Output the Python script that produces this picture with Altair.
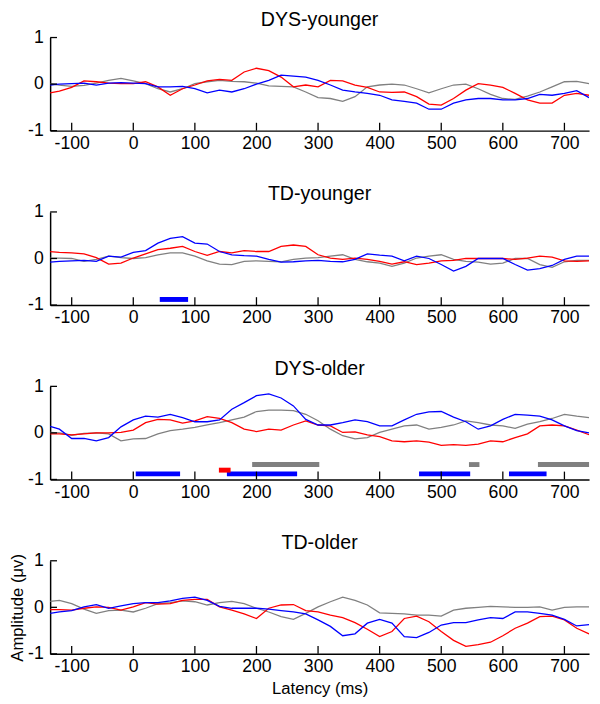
import altair as alt
import pandas as pd

# ---------------- data ----------------
latency = [-135, -120, -100, -80, -60, -40, -20, 0, 20, 40, 60, 80, 100, 120, 140, 160,
           180, 200, 220, 240, 260, 280, 300, 320, 340, 360, 380, 400, 420, 440, 460,
           480, 500, 520, 540, 560, 580, 600, 620, 640, 660, 680, 700, 720, 740]

panels = ["DYS-younger", "TD-younger", "DYS-older", "TD-older"]

dys_younger_red = [-0.19, -0.15, -0.07, 0.07, 0.05, 0.02, 0.01, 0.01, 0.05, -0.06, -0.24, -0.10,
                   -0.02, 0.07, 0.10, 0.08, 0.26, 0.34, 0.29, 0.15, -0.06, -0.02, -0.06, 0.08,
                   0.07, -0.02, -0.07, -0.17, -0.18, -0.17, -0.27, -0.43, -0.45, -0.31, -0.13,
                   0.01, -0.02, -0.07, -0.20, -0.34, -0.41, -0.41, -0.24, -0.20, -0.24]
dys_younger_blue = [-0.02, 0.00, 0.01, 0.02, -0.02, 0.02, 0.03, 0.02, 0.01, -0.06, -0.06, -0.05,
                    -0.10, -0.19, -0.13, -0.17, -0.10, 0.00, 0.08, 0.19, 0.17, 0.15, 0.08, -0.02,
                    -0.13, -0.17, -0.20, -0.24, -0.34, -0.37, -0.41, -0.54, -0.54, -0.41, -0.34,
                    -0.31, -0.31, -0.34, -0.34, -0.31, -0.22, -0.24, -0.20, -0.14, -0.29]
dys_younger_gray = [0.01, -0.02, -0.05, -0.03, 0.02, 0.08, 0.12, 0.07, 0.01, -0.10, -0.17, -0.10,
                    0.01, 0.05, 0.08, 0.06, 0.05, 0.02, -0.04, -0.05, -0.06, -0.17, -0.29, -0.31,
                    -0.37, -0.27, -0.06, -0.02, 0.00, -0.02, -0.10, -0.19, -0.10, -0.02, 0.00,
                    -0.10, -0.22, -0.31, -0.33, -0.26, -0.17, -0.06, 0.05, 0.06, 0.01]

td_younger_red = [0.15, 0.13, 0.12, 0.10, 0.02, -0.12, -0.10, 0.01, 0.10, 0.19, 0.22, 0.26, 0.15,
                  0.07, 0.15, 0.12, 0.17, 0.15, 0.15, 0.26, 0.29, 0.26, 0.08, 0.01, -0.02, 0.01,
                  -0.02, -0.06, -0.12, -0.07, -0.13, -0.10, -0.05, -0.04, 0.00, 0.00, 0.00, 0.00,
                  -0.02, 0.01, 0.05, 0.03, -0.05, -0.06, -0.05]
td_younger_blue = [-0.08, -0.06, -0.05, -0.04, -0.06, 0.05, 0.03, 0.13, 0.17, 0.33, 0.43, 0.47,
                   0.33, 0.31, 0.15, 0.08, 0.06, 0.05, -0.02, -0.08, -0.07, -0.05, -0.04, -0.06,
                   -0.07, -0.02, 0.10, 0.07, 0.05, -0.05, 0.05, 0.00, -0.13, -0.27, -0.17, 0.00,
                   0.00, 0.00, -0.13, -0.25, -0.22, -0.15, -0.02, 0.05, 0.05]
td_younger_gray = [0.01, 0.01, 0.00, -0.06, -0.02, 0.05, 0.02, 0.00, 0.02, 0.08, 0.12, 0.12, 0.05,
                   -0.05, -0.12, -0.13, -0.06, -0.05, -0.06, -0.07, -0.02, 0.01, 0.02, 0.05, 0.08,
                   -0.02, -0.07, -0.10, -0.17, -0.10, 0.01, 0.05, 0.08, -0.02, -0.06, -0.08, -0.12,
                   -0.10, 0.00, 0.00, -0.13, -0.19, -0.07, -0.04, -0.04]

dys_older_red = [-0.02, -0.02, -0.04, -0.02, 0.00, 0.00, 0.01, 0.06, 0.22, 0.29, 0.28, 0.21, 0.26,
                 0.35, 0.31, 0.22, 0.08, 0.03, 0.08, 0.06, 0.17, 0.26, 0.17, 0.15, 0.01, 0.02,
                 -0.04, -0.08, -0.17, -0.19, -0.17, -0.20, -0.27, -0.25, -0.27, -0.24, -0.17,
                 -0.19, -0.10, -0.02, 0.15, 0.17, 0.15, 0.06, -0.04]
dys_older_blue = [0.14, 0.08, -0.12, -0.12, -0.17, -0.10, 0.13, 0.28, 0.36, 0.34, 0.40, 0.33, 0.24,
                  0.24, 0.28, 0.51, 0.65, 0.80, 0.84, 0.75, 0.58, 0.29, 0.17, 0.17, 0.22, 0.28,
                  0.24, 0.15, 0.15, 0.28, 0.40, 0.45, 0.46, 0.34, 0.24, 0.08, 0.15, 0.29, 0.40,
                  0.38, 0.36, 0.28, 0.15, 0.05, 0.00]
dys_older_gray = [0.01, 0.00, -0.05, -0.01, 0.00, -0.02, -0.17, -0.13, -0.12, -0.02, 0.05, 0.08,
                  0.12, 0.17, 0.22, 0.28, 0.34, 0.46, 0.49, 0.49, 0.48, 0.40, 0.26, 0.08, -0.06,
                  -0.13, -0.10, 0.01, 0.08, 0.15, 0.17, 0.08, 0.12, 0.17, 0.26, 0.22, 0.17, 0.15,
                  0.10, 0.19, 0.24, 0.31, 0.40, 0.36, 0.33]

td_older_red = [-0.05, -0.05, -0.06, -0.02, 0.01, 0.00, -0.06, 0.01, 0.10, 0.07, 0.08, 0.15, 0.17,
                0.17, 0.01, -0.06, -0.14, -0.24, -0.02, 0.05, 0.06, -0.07, -0.10, -0.17, -0.22,
                -0.33, -0.47, -0.63, -0.52, -0.24, -0.19, -0.31, -0.52, -0.71, -0.84, -0.80,
                -0.75, -0.61, -0.45, -0.34, -0.20, -0.19, -0.27, -0.45, -0.57]
td_older_blue = [-0.13, -0.10, -0.07, 0.01, 0.06, -0.02, 0.03, 0.08, 0.10, 0.10, 0.14, 0.19, 0.22,
                 0.15, 0.02, -0.02, -0.02, -0.02, -0.04, -0.07, -0.10, -0.14, -0.27, -0.41, -0.61,
                 -0.57, -0.34, -0.26, -0.34, -0.63, -0.65, -0.54, -0.38, -0.33, -0.33, -0.27,
                 -0.22, -0.24, -0.10, -0.10, -0.13, -0.17, -0.26, -0.40, -0.37]
td_older_gray = [0.13, 0.15, 0.08, -0.04, -0.13, -0.07, -0.06, -0.10, -0.02, 0.08, 0.10, 0.14,
                 0.12, 0.05, 0.10, 0.13, 0.08, -0.02, -0.10, -0.20, -0.26, -0.13, 0.01, 0.12, 0.22,
                 0.15, 0.05, -0.12, -0.13, -0.14, -0.17, -0.17, -0.19, -0.06, -0.02, 0.00, 0.02,
                 0.01, 0.00, 0.00, 0.01, -0.06, 0.00, 0.01, 0.01]

# significance bars
sig_panel = ["TD-younger", "DYS-older", "DYS-older", "DYS-older", "DYS-older",
             "DYS-older", "DYS-older", "DYS-older", "DYS-older"]
sig_series = ["blue", "blue", "blue", "blue", "blue", "red", "gray", "gray", "gray"]
sig_start = [43, 4, 152, 464, 610, 139, 193, 545, 657]
sig_end = [89, 76, 266, 547, 671, 158, 302, 562, 740]
sig_level = {"blue": -0.88, "red": -0.80, "gray": -0.68}

x_ticks = [-100, 0, 100, 200, 300, 400, 500, 600, 700]
y_ticks = [-1, 0, 1]

series_names = ["gray", "red", "blue"]
series_colors = ["#808080", "#ff0000", "#0000ff"]

values = {
    "DYS-younger": {"red": dys_younger_red, "blue": dys_younger_blue, "gray": dys_younger_gray},
    "TD-younger": {"red": td_younger_red, "blue": td_younger_blue, "gray": td_younger_gray},
    "DYS-older": {"red": dys_older_red, "blue": dys_older_blue, "gray": dys_older_gray},
    "TD-older": {"red": td_older_red, "blue": td_older_blue, "gray": td_older_gray},
}

# ---------------- chart ----------------
W, H = 550, 95
FONT = "Liberation Sans"

xscale = alt.Scale(domain=[-135, 740], nice=False, zero=False)
yscale = alt.Scale(domain=[-1, 1], nice=False, zero=False)
cscale = alt.Scale(domain=series_names, range=series_colors)


def panel(name, last=False):
    rows = []
    for s in series_names:
        for t, v in zip(latency, values[name][s]):
            rows.append({"t": t, "v": v, "s": s})
    df = pd.DataFrame(rows)

    xaxis = alt.Axis(values=x_ticks, labelExpr="toString(datum.value)", labelOverlap=False,
                     grid=False, ticks=False, tickSize=0,
                     labelPadding=4, labelFontSize=18, labelFont=FONT, labelColor="black",
                     domainColor="black", domainWidth=1.5,
                     title="Latency (ms)" if last else None, titleFontSize=17,
                     titleFont=FONT, titleFontWeight="normal", titleColor="black",
                     titlePadding=5)
    yaxis = alt.Axis(values=y_ticks, labelExpr="toString(datum.value)", labelOverlap=False,
                     grid=False, ticks=False, tickSize=0,
                     labelPadding=7, labelFontSize=18, labelFont=FONT, labelColor="black",
                     domainColor="black", domainWidth=1.5,
                     title="Amplitude (\u03bcv)" if last else None, titleFontSize=17,
                     titleFont=FONT, titleFontWeight="normal", titleColor="black",
                     titlePadding=1)

    layers = []
    for s in series_names:
        layers.append(
            alt.Chart(df[df.s == s]).mark_line(strokeWidth=1.3, clip=True).encode(
                x=alt.X("t:Q", scale=xscale, axis=xaxis),
                y=alt.Y("v:Q", scale=yscale, axis=yaxis),
                color=alt.Color("s:N", scale=cscale, legend=None),
            )
        )

    sig = pd.DataFrame({"p": sig_panel, "s": sig_series, "a": sig_start, "b": sig_end})
    sig = sig[sig.p == name].copy()
    if len(sig):
        sig["lv"] = [sig_level[s] for s in sig.s]
        layers.append(
            alt.Chart(sig).mark_rule(strokeWidth=5, strokeCap="butt").encode(
                x=alt.X("a:Q", scale=xscale), x2="b:Q",
                y=alt.Y("lv:Q", scale=yscale),
                color=alt.Color("s:N", scale=cscale, legend=None),
            )
        )

    xt = pd.DataFrame({"t": x_ticks})
    layers.append(
        alt.Chart(xt).mark_rule(color="black", strokeWidth=1.3).encode(
            x=alt.X("t:Q", scale=xscale), y=alt.value(H), y2=alt.value(H - 8)
        )
    )
    yt = pd.DataFrame({"v": y_ticks})
    layers.append(
        alt.Chart(yt).mark_rule(color="black", strokeWidth=1.3).encode(
            y=alt.Y("v:Q", scale=yscale), x=alt.value(0), x2=alt.value(7)
        )
    )

    return alt.layer(*layers).properties(
        width=W, height=H,
        title=alt.TitleParams(name, fontSize=20, font=FONT, fontWeight="normal",
                              color="black", anchor="middle", frame="group", offset=-1),
    )


chart = alt.vconcat(
    panel(panels[0]), panel(panels[1]), panel(panels[2]), panel(panels[3], last=True),
    spacing=33,
).properties(
    padding={"left": 0, "top": -5, "right": 0, "bottom": 0}
).configure_view(stroke=None)

chart.save("out.html", embed_options={"renderer": "svg", "actions": False})
